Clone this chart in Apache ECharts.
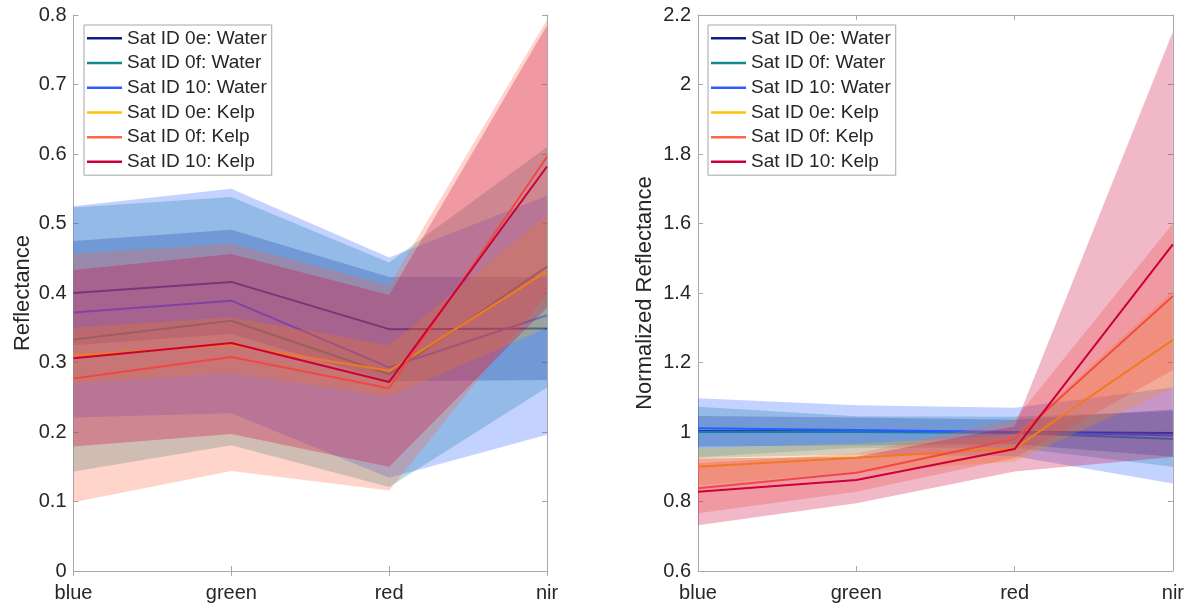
<!DOCTYPE html>
<html>
<head>
<meta charset="utf-8">
<script src="https://cdn.jsdelivr.net/npm/echarts@6/dist/echarts.min.js"></script>
<style>
html,body{margin:0;padding:0;background:#fff;}
#chart{width:1187px;height:607px;}
</style>
</head>
<body>
<div id="chart"></div>
<script>
// ---------- data ----------
const categories = ['blue', 'green', 'red', 'nir'];
const seriesNames = ['Sat ID 0e: Water', 'Sat ID 0f: Water', 'Sat ID 10: Water',
                     'Sat ID 0e: Kelp', 'Sat ID 0f: Kelp', 'Sat ID 10: Kelp'];
const leftTicks = [0, 0.8, 0.1];     // min, max, step of Reflectance axis
const rightTicks = [0.6, 2.2, 0.2];  // min, max, step of Normalized Reflectance axis

// Reflectance (left panel): mean, lower and upper edge of the shaded band
const reflWater0eMean = [0.400, 0.416, 0.348, 0.349];
const reflWater0eLow  = [0.325, 0.341, 0.273, 0.275];
const reflWater0eHigh = [0.475, 0.491, 0.423, 0.423];
const reflWater0fMean = [0.333, 0.360, 0.283, 0.438];
const reflWater0fLow  = [0.143, 0.181, 0.121, 0.264];
const reflWater0fHigh = [0.523, 0.538, 0.444, 0.610];
const reflWater10Mean = [0.372, 0.389, 0.293, 0.368];
const reflWater10Low  = [0.221, 0.227, 0.134, 0.196];
const reflWater10High = [0.525, 0.550, 0.451, 0.540];
const reflKelp0eMean  = [0.310, 0.325, 0.288, 0.431];
const reflKelp0eLow   = [0.270, 0.285, 0.251, 0.350];
const reflKelp0eHigh  = [0.350, 0.365, 0.325, 0.512];
const reflKelp0fMean  = [0.277, 0.308, 0.263, 0.596];
const reflKelp0fLow   = [0.099, 0.144, 0.116, 0.399];
const reflKelp0fHigh  = [0.457, 0.471, 0.411, 0.793];
const reflKelp10Mean  = [0.306, 0.328, 0.272, 0.582];
const reflKelp10Low   = [0.179, 0.197, 0.150, 0.379];
const reflKelp10High  = [0.433, 0.456, 0.397, 0.785];

// Normalized reflectance (right panel)
const normWater0eMean = [1.003, 1.002, 1.000, 0.997];
const normWater0eLow  = [0.958, 0.962, 0.965, 0.929];
const normWater0eHigh = [1.046, 1.042, 1.035, 1.065];
const normWater0fMean = [1.000, 1.000, 0.997, 0.980];
const normWater0fLow  = [0.927, 0.955, 0.955, 0.900];
const normWater0fHigh = [1.073, 1.045, 1.044, 1.060];
const normWater10Mean = [1.011, 1.006, 1.000, 0.990];
const normWater10Low  = [0.925, 0.935, 0.930, 0.852];
const normWater10High = [1.097, 1.077, 1.070, 1.128];
const normKelp0eMean  = [0.900, 0.926, 0.953, 1.265];
const normKelp0eLow   = [0.847, 0.885, 0.915, 1.126];
const normKelp0eHigh  = [0.953, 0.967, 0.991, 1.405];
const normKelp0fMean  = [0.838, 0.883, 0.980, 1.391];
const normKelp0fLow   = [0.766, 0.828, 0.925, 1.178];
const normKelp0fHigh  = [0.910, 0.938, 1.035, 1.600];
const normKelp10Mean  = [0.828, 0.862, 0.951, 1.540];
const normKelp10Low   = [0.732, 0.795, 0.886, 0.928];
const normKelp10High  = [0.924, 0.929, 1.016, 2.152];

// ---------- styling ----------
const colors = ['#0f1a8c', '#12898a', '#2a5cff', '#ffc20a', '#ff6445', '#cc0038'];
const FONT = '"Liberation Sans", Arial, Helvetica, sans-serif';
const TXT = '#262626';
const AX = '#a8a8a8';

const panels = [
  { means: [reflWater0eMean, reflWater0fMean, reflWater10Mean, reflKelp0eMean, reflKelp0fMean, reflKelp10Mean],
    lows:  [reflWater0eLow, reflWater0fLow, reflWater10Low, reflKelp0eLow, reflKelp0fLow, reflKelp10Low],
    highs: [reflWater0eHigh, reflWater0fHigh, reflWater10High, reflKelp0eHigh, reflKelp0fHigh, reflKelp10High] },
  { means: [normWater0eMean, normWater0fMean, normWater10Mean, normKelp0eMean, normKelp0fMean, normKelp10Mean],
    lows:  [normWater0eLow, normWater0fLow, normWater10Low, normKelp0eLow, normKelp0fLow, normKelp10Low],
    highs: [normWater0eHigh, normWater0fHigh, normWater10High, normKelp0eHigh, normKelp0fHigh, normKelp10High] }
];

const series = [];
panels.forEach((p, pi) => {
  for (let i = 0; i < seriesNames.length; i++) {
    const stack = 'band' + pi + '_' + i;
    series.push({
      name: 'lo' + pi + i, type: 'line', xAxisIndex: 2 * pi, yAxisIndex: 2 * pi,
      data: p.lows[i], stack: stack, symbol: 'none', silent: true,
      lineStyle: { width: 0, opacity: 0 }, z: 10 + 2 * i
    });
    series.push({
      name: 'hi' + pi + i, type: 'line', xAxisIndex: 2 * pi, yAxisIndex: 2 * pi,
      data: p.highs[i].map((h, k) => h - p.lows[i][k]), stack: stack, symbol: 'none', silent: true,
      lineStyle: { width: 0, opacity: 0 },
      areaStyle: { color: colors[i], opacity: 0.28 }, z: 10 + 2 * i
    });
    series.push({
      name: seriesNames[i], type: 'line', xAxisIndex: 2 * pi, yAxisIndex: 2 * pi,
      data: p.means[i], symbol: 'none',
      lineStyle: { width: 2, color: colors[i] }, itemStyle: { color: colors[i] },
      z: 11 + 2 * i
    });
  }
});

function xAx(grid, pos) {
  return {
    type: 'category', gridIndex: grid, position: pos, data: categories, boundaryGap: false,
    axisLine: { show: true, lineStyle: { color: AX, width: 1 } },
    axisTick: { show: true, inside: true, length: 5, lineStyle: { color: AX } },
    axisLabel: { show: pos === 'bottom', color: TXT, fontSize: 20, fontFamily: FONT, margin: 12 },
    splitLine: { show: false }
  };
}
function yAx(grid, pos, t, name, gap) {
  return {
    type: 'value', gridIndex: grid, position: pos, min: t[0], max: t[1], interval: t[2],
    name: pos === 'left' ? name : '', nameLocation: 'middle', nameGap: gap,
    nameTextStyle: { color: TXT, fontSize: 22, fontFamily: FONT },
    axisLine: { show: true, lineStyle: { color: AX, width: 1 } },
    axisTick: { show: true, inside: true, length: 5, lineStyle: { color: AX } },
    axisLabel: { show: pos === 'left', color: TXT, fontSize: 20, fontFamily: FONT, margin: 7 },
    splitLine: { show: false }
  };
}
function legend(left) {
  return {
    data: seriesNames, orient: 'vertical', left: left, top: 25, z: 50,
    icon: 'rect', itemWidth: 35, itemHeight: 2.5, itemGap: 0,
    padding: [1, 5, 1, 3],
    backgroundColor: '#ffffff', borderColor: '#a6a6a6', borderWidth: 1, borderRadius: 0,
    textStyle: { color: TXT, fontSize: 19, fontFamily: FONT, lineHeight: 24.7 },
    selectedMode: false
  };
}

const chart = echarts.init(document.getElementById('chart'), null, { renderer: 'canvas' });
chart.setOption({
  animation: false,
  backgroundColor: '#ffffff',
  textStyle: { fontFamily: FONT },
  grid: [
    { left: 73.5, right: 640, top: 15, bottom: 36, containLabel: false },
    { left: 698, right: 13, top: 15, bottom: 36, containLabel: false }
  ],
  xAxis: [xAx(0, 'bottom'), xAx(0, 'top'), xAx(1, 'bottom'), xAx(1, 'top')],
  yAxis: [
    yAx(0, 'left', leftTicks, 'Reflectance', 40), yAx(0, 'right', leftTicks, '', 0),
    yAx(1, 'left', rightTicks, 'Normalized Reflectance', 42), yAx(1, 'right', rightTicks, '', 0)
  ],
  legend: [legend(84), legend(708)],
  series: series
});
</script>
</body>
</html>
